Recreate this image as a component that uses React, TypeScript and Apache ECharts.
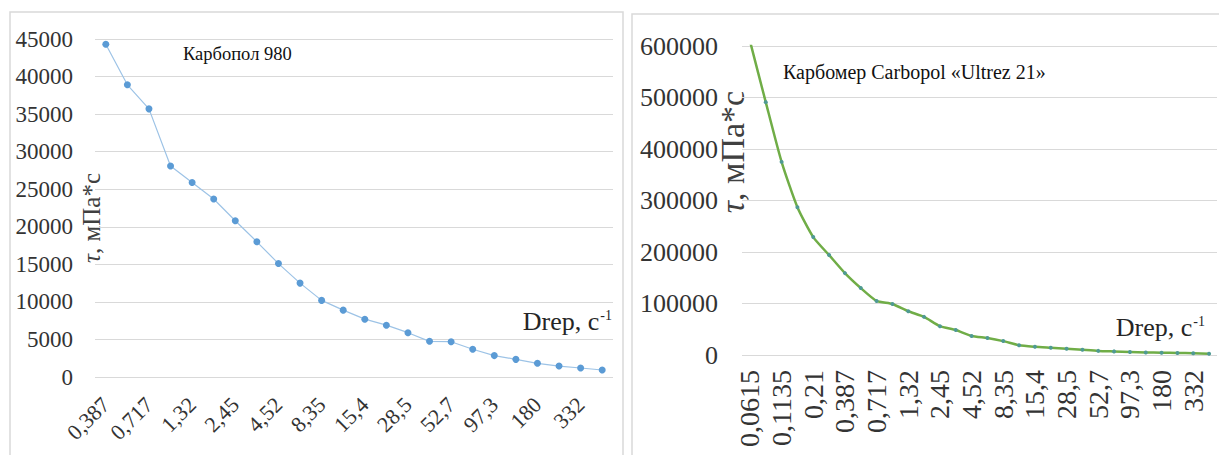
import React, { useEffect, useRef } from "react";
import * as echarts from "echarts";

const leftCategories = [
  "0,387", "0,526", "0,717", "0,975", "1,32", "1,8", "2,45", "3,33", "4,52", "6,15",
  "8,35", "11,4", "15,4", "20,9", "28,5", "38,8", "52,7", "71,7", "97,3", "132",
  "180", "245", "332", "451",
];
const leftValues = [
  44300, 38900, 35700, 28100, 25900, 23700, 20800, 18000, 15100, 12500,
  10200, 8900, 7700, 6900, 5900, 4750, 4700, 3700, 2850, 2350,
  1820, 1460, 1200, 930,
];
const rightCategories = [
  "0,0615", "0,0836", "0,1135", "0,154", "0,21", "0,286",
  "0,387", "0,526", "0,717", "0,975", "1,32", "1,8", "2,45", "3,33", "4,52", "6,15",
  "8,35", "11,4", "15,4", "20,9", "28,5", "38,8", "52,7", "71,7", "97,3", "132",
  "180", "245", "332", "451",
];
const rightValues = [
  610000, 491000, 375000, 287000, 229000, 194000, 159000, 130000, 105000, 99000,
  85000, 74000, 56000, 48500, 37000, 33000, 27000, 19000, 16000, 14000,
  12000, 10000, 8000, 7000, 6000, 5000, 4500, 4000, 3500, 2500,
];
const leftYMax = 45000;
const leftYStep = 5000;
const rightYMax = 600000;
const rightYStep = 100000;

const leftTitle = "Карбопол 980";
const rightTitle = "Карбомер Carbopol «Ultrez 21»";

const FONT = "Liberation Serif";

export default function App() {
  const ref = useRef<HTMLDivElement>(null);
  useEffect(() => {
    if (!ref.current) return;
    const chart = echarts.init(ref.current, null, { renderer: "svg" });
    const yNameRich = (size: number) => ({
      i: { fontFamily: FONT, fontSize: size, fontStyle: "italic", fill: "#404040" },
      n: { fontFamily: FONT, fontSize: size, fill: "#404040" },
    });
    const drepRich = {
      a: { fontFamily: FONT, fontSize: 26, fill: "#262626" },
      b: { fontFamily: FONT, fontSize: 14, fill: "#262626", verticalAlign: "top", padding: [0, 0, 12, 1] },
    };
    const titleRich = (size: number) => ({ t: { fontFamily: FONT, fontSize: size, fill: "#111111" } });
    const lbl = (size: number) => ({ t: { fontFamily: FONT, fontSize: size, color: "#333333" } });
    const wrap = (v: number | string) => "{t|" + String(v) + "}";
    chart.setOption({
      animation: false,
      backgroundColor: "#ffffff",
      textStyle: { fontFamily: FONT },
      grid: [
        { left: 95, top: 39, width: 518, height: 338 },
        { left: 742, top: 46, width: 475, height: 309 },
      ],
      xAxis: [
        {
          type: "category",
          gridIndex: 0,
          data: leftCategories,
          boundaryGap: true,
          axisLine: { show: false },
          axisTick: { show: false },
          axisLabel: {
            interval: 1,
            rotate: 45,
            fontSize: 22,
            margin: 24,
            color: "#333333",
            fontFamily: FONT,
            formatter: wrap,
            rich: lbl(22),
          },
        },
        {
          type: "category",
          gridIndex: 1,
          data: rightCategories,
          boundaryGap: true,
          axisLine: { show: false },
          axisTick: { show: false },
          axisLabel: {
            interval: 1,
            rotate: 90,
            fontSize: 28,
            margin: 15,
            color: "#333333",
            fontFamily: FONT,
            formatter: wrap,
            rich: lbl(28),
          },
        },
      ],
      yAxis: [
        {
          type: "value",
          gridIndex: 0,
          min: 0,
          max: leftYMax,
          interval: leftYStep,
          axisLine: { show: false },
          axisTick: { show: false },
          axisLabel: { fontSize: 23, margin: 22, color: "#333333", fontFamily: FONT, formatter: wrap, rich: lbl(23) },
          splitLine: { lineStyle: { color: "#d9d9d9", width: 1 } },
        },
        {
          type: "value",
          gridIndex: 1,
          min: 0,
          max: rightYMax,
          interval: rightYStep,
          axisLine: { show: false },
          axisTick: { show: false },
          axisLabel: { fontSize: 26, margin: 24, color: "#333333", fontFamily: FONT, formatter: wrap, rich: lbl(26) },
          splitLine: { lineStyle: { color: "#d9d9d9", width: 1 } },
        },
      ],
      series: [
        {
          type: "line",
          xAxisIndex: 0,
          yAxisIndex: 0,
          data: leftValues,
          symbol: "circle",
          symbolSize: 7,
          lineStyle: { color: "#9dc3e6", width: 1.2 },
          itemStyle: { color: "#5b9bd5" },
        },
        {
          type: "line",
          xAxisIndex: 1,
          yAxisIndex: 1,
          data: rightValues,
          smooth: 0.2,
          symbol: "circle",
          symbolSize: 4,
          lineStyle: { color: "#70ad47", width: 2.5 },
          itemStyle: { color: "#4f9a94" },
        },
      ],
      graphic: [
        {
          type: "rect",
          shape: { x: 10, y: 12, width: 613, height: 470 },
          style: { fill: "none", stroke: "#d9d9d9", lineWidth: 1.5 },
          silent: true,
        },
        {
          type: "rect",
          shape: { x: 632, y: 14, width: 620, height: 470 },
          style: { fill: "none", stroke: "#d9d9d9", lineWidth: 1.5 },
          silent: true,
        },
        {
          type: "text",
          x: 183,
          y: 54,
          style: {
            text: "{t|" + leftTitle + "}",
            rich: titleRich(18.5),
            textVerticalAlign: "middle",
          },
        },
        {
          type: "text",
          x: 783,
          y: 72,
          style: {
            text: "{t|" + rightTitle + "}",
            rich: titleRich(20),
            textVerticalAlign: "middle",
          },
        },
        {
          type: "text",
          x: 91,
          y: 218,
          rotation: Math.PI / 2,
          style: {
            text: "{i|τ}{n|, мПа*с}",
            rich: yNameRich(25),
            textAlign: "center",
            textVerticalAlign: "middle",
          },
        },
        {
          type: "text",
          x: 732,
          y: 152,
          rotation: Math.PI / 2,
          style: {
            text: "{i|τ}{n|, мПа*с}",
            rich: yNameRich(34),
            textAlign: "center",
            textVerticalAlign: "middle",
          },
        },
        {
          type: "text",
          x: 612,
          y: 321,
          style: {
            text: "{a|Drep, с}{b|-1}",
            rich: drepRich,
            textAlign: "right",
            textVerticalAlign: "middle",
          },
        },
        {
          type: "text",
          x: 1205,
          y: 327,
          style: {
            text: "{a|Drep, с}{b|-1}",
            rich: drepRich,
            textAlign: "right",
            textVerticalAlign: "middle",
          },
        },
      ],
    });
    return () => chart.dispose();
  }, []);
  return (
    <div
      ref={ref}
      style={{ position: "fixed", left: 0, top: 0, width: 1219, height: 455, background: "#fff" }}
    />
  );
}
